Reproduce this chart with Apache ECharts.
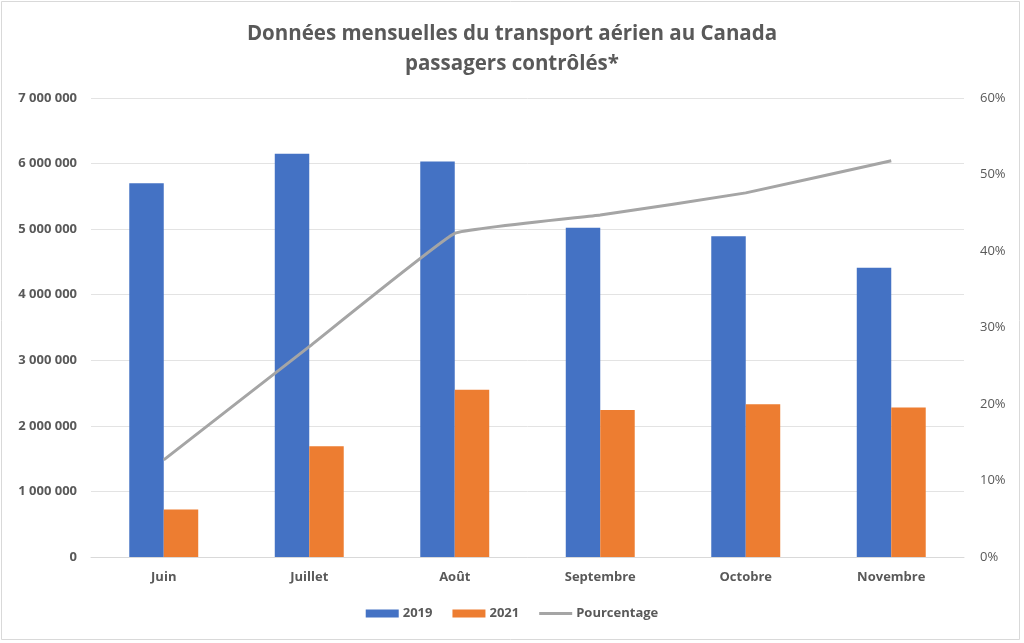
<!DOCTYPE html>
<html><head><meta charset="utf-8">
<script src="https://cdn.jsdelivr.net/npm/echarts@6/dist/echarts.min.js"></script>
<style>html,body{margin:0;padding:0;background:#fff}#c{width:1024px;height:643px}</style>
</head><body><div id="c"></div>
<script>
const categories = ['Juin','Juillet','Août','Septembre','Octobre','Novembre'];
const values2019 = [5700000, 6150000, 6030000, 5020000, 4890000, 4410000];
const values2021 = [724000, 1690000, 2550000, 2240000, 2330000, 2280000];
const pourcentage = [12.7, 27.5, 42.3, 44.7, 47.6, 51.8];
const leftTicks = [0, 1000000, 7000000];
const rightTicks = [0, 10, 60];

const fmtNum = v => v === 0 ? '0' : String(v).replace(/\B(?=(\d{3})+(?!\d))/g, ' ');
const font = 'Open Sans';
const chart = echarts.init(document.getElementById('c'));
chart.setOption({
  animation: false,
  backgroundColor: '#fff',
  title: {
    text: 'Données mensuelles du transport aérien au Canada\npassagers contrôlés*',
    left: 'center', top: 14,
    textStyle: {fontFamily: font, fontSize: 20.5, fontWeight: 700, color: '#595959', lineHeight: 30}
  },
  legend: {
    bottom: 18, left: 'center', itemGap: 20, itemWidth: 33, itemHeight: 8,
    textStyle: {fontFamily: font, fontSize: 13, fontWeight: 700, color: '#595959', padding: [0,0,0,-1]},
    data: [{name:'2019', icon:'rect'}, {name:'2021', icon:'rect'},
           {name:'Pourcentage', icon:'path://M0,0 L33,0 L33,3 L0,3 Z', itemStyle: {color: '#a5a5a5'}}]
  },
  grid: {left: 91, right: 60, top: 98, bottom: 86, containLabel: false},
  xAxis: {
    type: 'category', data: categories,
    axisLine: {lineStyle: {color: '#d9d9d9'}},
    axisTick: {show: false},
    axisLabel: {fontFamily: font, fontSize: 13, fontWeight: 700, color: '#595959', margin: 14}
  },
  yAxis: [{
    type: 'value', min: leftTicks[0], max: leftTicks[2], interval: leftTicks[1],
    axisLine: {show: false}, axisTick: {show: false},
    splitLine: {lineStyle: {color: '#e3e3e3'}},
    axisLabel: {fontFamily: font, fontSize: 13, fontWeight: 700, color: '#595959', margin: 14, formatter: fmtNum}
  }, {
    type: 'value', min: rightTicks[0], max: rightTicks[2], interval: rightTicks[1],
    axisLine: {show: false}, axisTick: {show: false}, splitLine: {show: false},
    axisLabel: {fontFamily: font, fontSize: 13, color: '#595959', margin: 16, formatter: v => v + '%'}
  }],
  series: [
    {name: '2019', type: 'bar', data: values2019, barWidth: '23.7%', barGap: '0%', itemStyle: {color: '#4472c4'}},
    {name: '2021', type: 'bar', data: values2021, barWidth: '23.7%', barGap: '0%', itemStyle: {color: '#ed7d31'}},
    {name: 'Pourcentage', type: 'line', yAxisIndex: 1, data: pourcentage, smooth: 0.08,
     symbol: 'none', lineStyle: {color: '#a5a5a5', width: 3}, itemStyle: {color: '#a5a5a5'}}
  ],
  graphic: [{type: 'rect', shape: {x: 1.5, y: 1.5, width: 1018, height: 638},
    style: {fill: 'none', stroke: '#d9d9d9', lineWidth: 1}, silent: true}]
});
</script></body></html>
